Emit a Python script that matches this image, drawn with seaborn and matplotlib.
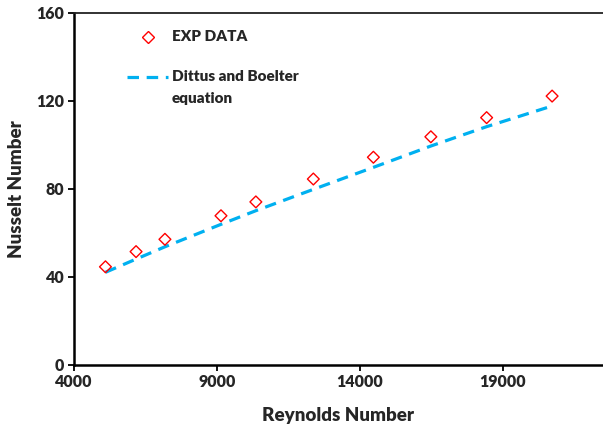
import matplotlib
matplotlib.use("Agg")
import matplotlib.pyplot as plt
import seaborn as sns
import pandas as pd
from matplotlib.lines import Line2D

# Experimental heat-transfer results
reynolds = [5100, 6170, 7180, 9140, 10360, 12370, 14470, 16480, 18430, 20720]
nusselt_exp = [44.5, 51.4, 57.0, 67.7, 74.0, 84.4, 94.3, 103.6, 112.3, 122.1]
# Dittus-Boelter correlation evaluated at the same Reynolds numbers
nusselt_db = [42.0, 48.0, 53.6, 63.8, 70.0, 79.7, 89.7, 99.4, 108.2, 117.6]

x_ticks = [4000, 9000, 14000, 19000]
y_ticks = [0, 40, 80, 120, 160]

df = pd.DataFrame({"Re": reynolds, "Nu_exp": nusselt_exp, "Nu_db": nusselt_db})

sns.set_theme(style="white")
plt.rcParams["font.family"] = ["Lato", "DejaVu Sans"]
W = "heavy"

fig = plt.figure(figsize=(6.03, 4.28), dpi=100)
ax = fig.add_axes([74 / 603, 1 - 364.7 / 428, 1 - 74 / 603, (364.7 - 12.7) / 428])

blue = "#00B0F0"
red = "#FF0000"

sns.lineplot(data=df, x="Re", y="Nu_db", ax=ax, color=blue, linewidth=2.3,
             dashes=False, legend=False)
ax.lines[-1].set_dashes((3.6, 2.4))
ax.lines[-1].set_dash_capstyle("butt")

sns.scatterplot(data=df, x="Re", y="Nu_exp", ax=ax, marker="D", s=36,
                facecolor="none", edgecolor=red, linewidth=1.0, legend=False,
                zorder=3)

ax.set_xlim(4000, 22500)
ax.set_ylim(0, 160)
ax.set_xticks(x_ticks)
ax.set_yticks(y_ticks)
ax.tick_params(axis="both", which="major", direction="out", length=4, width=1.3,
               color="black", labelsize=11.5, pad=3, bottom=True, left=True)
for lab in ax.get_xticklabels() + ax.get_yticklabels():
    lab.set_fontweight(W)

for side in ["left", "bottom"]:
    ax.spines[side].set_color("black")
    ax.spines[side].set_linewidth(1.8)
ax.spines["top"].set_color("#222222")
ax.spines["top"].set_linewidth(1.3)
ax.spines["right"].set_visible(False)

ax.set_xlabel("Reynolds Number", fontsize=13.5, fontweight=W, labelpad=12)
ax.set_ylabel("Nusselt Number", fontsize=13.5, fontweight=W, labelpad=8)

# Legend entries
def fx(px):
    return (px - 74) / (603 - 74)

def fy(py):
    return (364.7 - py) / (364.7 - 12.7)

ax.add_line(Line2D([fx(148)], [fy(36.5)], transform=ax.transAxes, marker="D",
                   markersize=6, markerfacecolor="none", markeredgecolor=red,
                   markeredgewidth=1.0, linestyle="none"))
ax.text(fx(172), fy(36.5), "EXP DATA", transform=ax.transAxes, fontsize=11,
        fontweight=W, va="center", ha="left")
ax.add_line(Line2D([fx(127), fx(168)], [fy(76.5), fy(76.5)], transform=ax.transAxes,
                   color=blue, linewidth=2.3, dashes=(3.6, 2.4),
                   dash_capstyle="butt"))
ax.text(fx(172), fy(76.5), "Dittus and Boelter", transform=ax.transAxes,
        fontsize=11, fontweight=W, va="center", ha="left")
ax.text(fx(172), fy(98.5), "equation", transform=ax.transAxes,
        fontsize=11, fontweight=W, va="center", ha="left")

fig.savefig("out.png", dpi=100)
